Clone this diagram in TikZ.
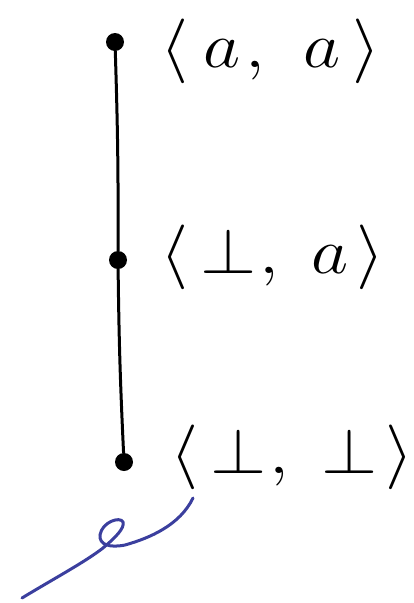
\documentclass[tikz,border=0pt]{standalone}
\usepackage{tikz}
\usetikzlibrary{positioning}
\definecolor{PenBlue}{HTML}{3B3F9E}

\begin{document}
\begin{tikzpicture}[
  x=1pt,y=-1pt,
  dot/.style={circle,fill=black,inner sep=0pt,minimum size=18pt},
  lbl/.style={anchor=west,inner sep=0pt,font=\Huge,xscale=2.9,yscale=2.6,transform shape},
  edge/.style={line width=3pt,line cap=round}
]
  \useasboundingbox (0,0) rectangle (414,603);
  \node[dot] (top) at (115,42) {};
  \node[dot] (mid) at (118,260) {};
  \node[dot] (bot) at (124,462) {};

  \node[lbl] (ltop) at (160,51)
    {$\langle\hspace{5pt}a\hspace{2pt},\hspace{9pt}a\hspace{4pt}\rangle$};
  \node[lbl] (lmid) at (160,257)
    {$\langle\hspace{4pt}\bot\hspace{1pt},\hspace{7pt}a\hspace{3pt}\rangle$};
  \node[lbl] (lbot) at (170,457)
    {$\langle\hspace{4pt}\bot\hspace{1pt},\hspace{7pt}\bot\hspace{3pt}\rangle$};

  \draw[edge] (top) to[bend left=1] (mid);
  \draw[edge] (mid) to[bend right=1] (bot);

  % the blue pen stroke
  \draw[PenBlue,line width=3pt,line cap=round]
    (22,598) .. controls (55,578) and (85,562) .. (103,548)
    .. controls (115,538) and (125,528) .. (123,522)
    .. controls (120,516) and (102,522) .. (100,535)
    .. controls (99,545) and (110,548) .. (125,545)
    .. controls (150,538) and (180,525) .. (193,498);
\end{tikzpicture}
\end{document}
